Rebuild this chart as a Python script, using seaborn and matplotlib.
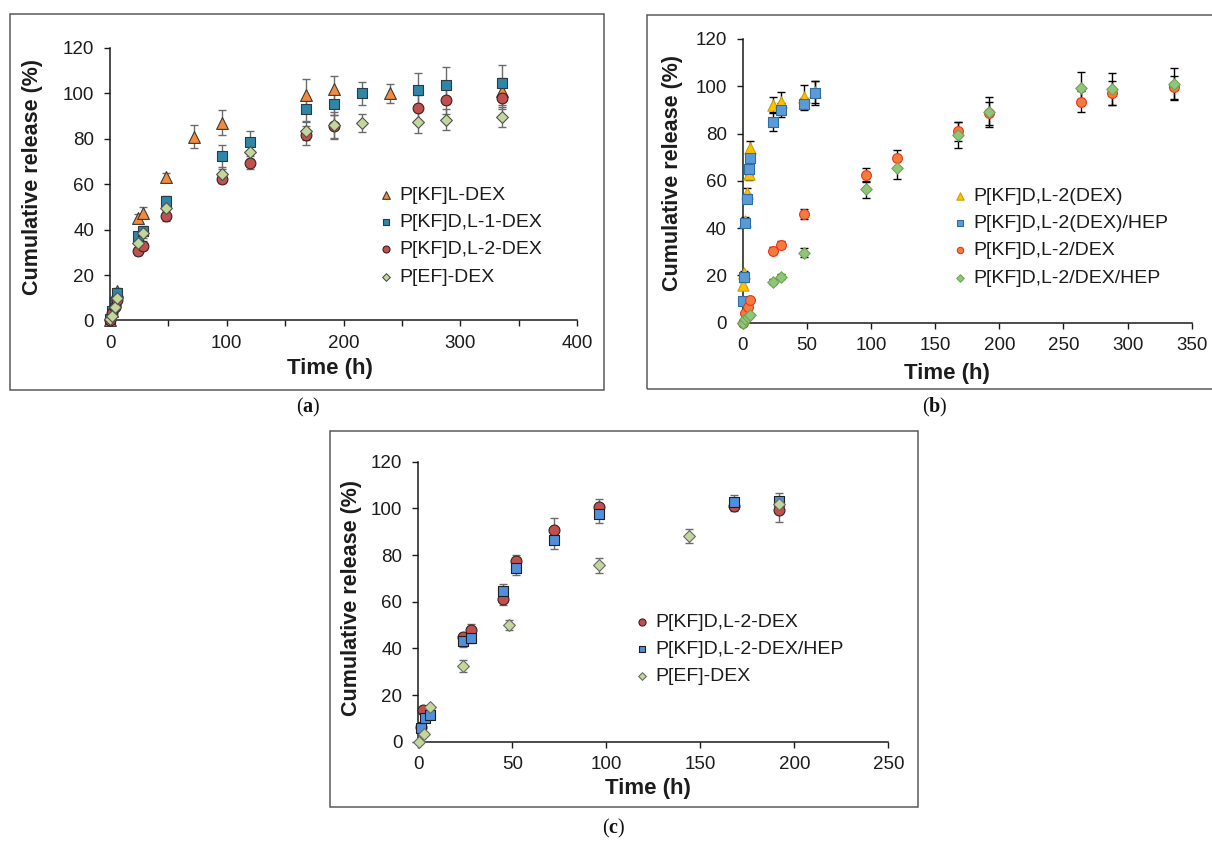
import matplotlib
matplotlib.use("Agg")
import matplotlib.pyplot as plt
from matplotlib.patches import Rectangle
import numpy as np
import seaborn as sns

# ---------------- data: panel (a) ----------------
a_kfl_t = [0, 2, 4, 6, 24, 28, 48, 72, 96, 168, 192, 240, 336]
a_kfl_v = [0, 4, 9, 13, 45, 47.5, 63, 81, 87, 99.5, 102, 100, 101]
a_kfl_e = [0.5, 0.5, 1, 1.5, 2, 2.5, 2, 5, 5.5, 7, 5.5, 4.3, 6]

a_kfd1_t = [0, 2, 4, 6, 24, 28, 48, 96, 120, 168, 192, 216, 264, 288, 336]
a_kfd1_v = [0.5, 4, 8, 12, 37, 39.5, 52.5, 72.5, 78.5, 93, 95.5, 100, 101.5, 103.5, 104.5]
a_kfd1_e = [0.3, 0.5, 1, 1.5, 2, 2, 2.5, 5, 5, 5, 5, 5, 7.5, 8, 8]

a_kfd2_t = [0, 2, 4, 6, 24, 28, 48, 96, 120, 168, 192, 264, 288, 336]
a_kfd2_v = [0, 3.5, 6, 9, 30.5, 33, 46, 62.5, 69.5, 81.5, 85.5, 93.5, 97, 98]
a_kfd2_e = [0.3, 0.5, 1, 1, 1.5, 2, 2, 2, 3, 4, 5, 6, 6, 5]

a_ef_t = [0, 2, 4, 6, 24, 28, 48, 96, 120, 168, 192, 216, 264, 288, 336]
a_ef_v = [0.5, 2, 6, 10, 34, 38.5, 49.5, 64.5, 74, 83.5, 86, 87, 87.5, 88.5, 89.5]
a_ef_e = [0.3, 0.5, 1, 1, 1.5, 2, 2, 2, 3, 4, 6, 4, 5, 4.5, 4.5]

a_names = ["P[KF]L-DEX", "P[KF]D,L-1-DEX", "P[KF]D,L-2-DEX", "P[EF]-DEX"]

# ---------------- data: panel (b) ----------------
b_tri_t = [0.5, 1, 2, 3, 5, 6, 24, 30, 48, 56]
b_tri_v = [16, 21, 43, 55, 63, 74, 92, 93.5, 95.5, 97.5]
b_tri_e = [1, 1, 1.5, 2, 2.5, 3, 3.5, 4, 5, 4.5]

b_sq_t = [0.5, 1, 2, 3, 5, 6, 24, 30, 48, 56]
b_sq_v = [9, 19.5, 42, 52.5, 65, 69.5, 85, 90, 92.5, 97]
b_sq_e = [1, 1, 1.5, 2, 2.5, 2.5, 4, 3, 2.5, 5]

b_ci_t = [0, 2, 4, 6, 24, 30, 48, 96, 120, 168, 192, 264, 288, 336]
b_ci_v = [0, 4, 6.5, 9.5, 30.5, 33, 46, 62.5, 69.5, 81, 88.5, 93.5, 97, 99.5]
b_ci_e = [0.3, 0.5, 0.5, 0.8, 1.5, 1.5, 2, 3, 3.5, 4, 5, 4.5, 5, 5]

b_di_t = [0, 2, 4, 6, 24, 30, 48, 96, 120, 168, 192, 264, 288, 336]
b_di_v = [0, 1.5, 2.5, 3.2, 17.3, 19.5, 29.6, 56.4, 65.3, 79.4, 89.2, 99.4, 98.7, 100.8]
b_di_e = [0.2, 0.3, 0.4, 0.5, 1, 1.2, 2, 3.5, 4.5, 5.5, 6.4, 6.7, 6.7, 6.8]

b_names = ["P[KF]D,L-2(DEX)", "P[KF]D,L-2(DEX)/HEP", "P[KF]D,L-2/DEX", "P[KF]D,L-2/DEX/HEP"]

# ---------------- data: panel (c) ----------------
c_ci_t = [1.5, 2.5, 24, 28, 45, 52, 72, 96, 168, 192]
c_ci_v = [6.5, 13.5, 45, 48, 61, 77.5, 90.7, 100.7, 101.2, 99.3]
c_ci_e = [0.5, 1, 1.5, 2.5, 2.5, 2.5, 5, 3.5, 2.5, 5]

c_sq_t = [1.5, 3.5, 6, 24, 28, 45, 52, 72, 96, 168, 192]
c_sq_v = [6, 10, 11.3, 43.3, 44.3, 64.6, 74.3, 86.4, 97.4, 102.9, 103.3]
c_sq_e = [0.5, 1, 1, 2.5, 2, 3, 3, 4, 3.5, 3, 3.5]

c_di_t = [0.5, 3, 6, 24, 48, 96, 144, 192]
c_di_v = [0, 3.5, 14.8, 32.5, 50, 75.7, 88, 102]
c_di_e = [0.2, 0.5, 1, 2.5, 2, 3.2, 3, 3]

c_names = ["P[KF]D,L-2-DEX", "P[KF]D,L-2-DEX/HEP", "P[EF]-DEX"]

y_ticks = [0, 20, 40, 60, 80, 100, 120]

# ---------------- styling ----------------
W, H = 1212, 841
sns.set_theme(style="ticks")
plt.rcParams["font.family"] = ["Liberation Sans", "DejaVu Sans"]
plt.rcParams["mathtext.fontset"] = "custom"
plt.rcParams["mathtext.rm"] = "Liberation Serif"
plt.rcParams["mathtext.bf"] = "Liberation Serif:bold"

TXT = "#1c1c1c"
fig = plt.figure(figsize=(W / 100, H / 100), dpi=100)
fig.patch.set_facecolor("white")


def px_axes(left, top, right, bottom):
    return fig.add_axes([left / W, 1 - bottom / H, (right - left) / W, (bottom - top) / H])


def frame(left, top, right, bottom):
    fig.patches.append(Rectangle((left / W, 1 - bottom / H), (right - left) / W,
                                 (bottom - top) / H, transform=fig.transFigure,
                                 fill=False, edgecolor="#5a5a5a", lw=1.1))


def draw_series(ax, t, v, e, name, marker, size, face, edge, ecolor):
    ax.errorbar(t, v, yerr=e, fmt="none", ecolor=ecolor, elinewidth=1.0,
                capsize=3, capthick=1.0, zorder=2, clip_on=False)
    sns.scatterplot(x=t, y=v, ax=ax, marker=marker, s=size, color=face,
                    edgecolor=edge, linewidth=0.8, label=name, zorder=3,
                    clip_on=False)


def style_axes(ax, xmax, xstep, label_every, ylab_xy, xlab_xy):
    ax.set_xlim(0, xmax)
    ax.set_ylim(0, 120)
    xt = np.arange(0, xmax + 1, xstep)
    ax.set_xticks(xt)
    ax.set_xticklabels([f"{int(x)}" if x % label_every == 0 else "" for x in xt])
    ax.set_yticks(y_ticks)
    ax.set_yticklabels([str(y) for y in y_ticks])
    sns.despine(ax=ax)
    for s in ("left", "bottom"):
        ax.spines[s].set_color("#1a1a1a")
        ax.spines[s].set_linewidth(1.1)
    ax.tick_params(axis="both", direction="out", length=4.5, width=1.0,
                   color="#1a1a1a", labelcolor=TXT, labelsize=13.5)
    ax.tick_params(axis="y", pad=7)
    ax.tick_params(axis="x", pad=6)
    ax.set_ylabel("Cumulative release (%)", fontsize=15.5, fontweight="bold", color=TXT)
    ax.set_xlabel("Time (h)", fontsize=16, fontweight="bold", color=TXT)
    ax.yaxis.set_label_coords(*ylab_xy)
    ax.xaxis.set_label_coords(*xlab_xy)
    ax.set_facecolor("none")


def place_legend(ax, left, top):
    leg = ax.legend(loc="upper left", bbox_to_anchor=(left / W, 1 - top / H),
                    bbox_transform=fig.transFigure, frameon=False, fontsize=14,
                    handlelength=0.8, handletextpad=0.3, labelspacing=0.5,
                    borderpad=0, borderaxespad=0, markerscale=0.65)
    for txt in leg.get_texts():
        txt.set_color(TXT)


# ---------------- panel (a) ----------------
frame(10, 14, 604, 390)
ax_a = px_axes(110, 48, 577, 320.5)
GA = "#6b6b6b"
draw_series(ax_a, a_kfl_t, a_kfl_v, a_kfl_e, a_names[0], "^", 72, "#F58A3A", "#3a3a3a", GA)
draw_series(ax_a, a_kfd1_t, a_kfd1_v, a_kfd1_e, a_names[1], "s", 50, "#2F86A6", "#2b3a44", GA)
draw_series(ax_a, a_kfd2_t, a_kfd2_v, a_kfd2_e, a_names[2], "o", 60, "#C0504D", "#3a2020", GA)
draw_series(ax_a, a_ef_t, a_ef_v, a_ef_e, a_names[3], "D", 36, "#C3D69B", "#505050", GA)
style_axes(ax_a, 400, 50, 100, (-0.1435, 0.528), (0.471, -0.138))
place_legend(ax_a, 378, 186)

# ---------------- panel (b) ----------------
frame(647, 15, 1216, 389)
ax_b = px_axes(742.7, 38.9, 1191.7, 322.7)
GB = "#000000"
draw_series(ax_b, b_tri_t, b_tri_v, b_tri_e, b_names[0], "^", 66, "#FFC000", "#C9A000", GB)
draw_series(ax_b, b_sq_t, b_sq_v, b_sq_e, b_names[1], "s", 46, "#5B9BD5", "#2E6DA4", GB)
draw_series(ax_b, b_ci_t, b_ci_v, b_ci_e, b_names[2], "o", 50, "#F47B3B", "#E8361E", GB)
draw_series(ax_b, b_di_t, b_di_v, b_di_e, b_names[3], "D", 34, "#93C47D", "#6AA84F", GB)
style_axes(ax_b, 350, 50, 50, (-0.133, 0.526), (0.455, -0.142))
place_legend(ax_b, 952, 187)

# ---------------- panel (c) ----------------
frame(330, 431, 918, 807)
ax_c = px_axes(418.3, 461.7, 888.3, 741.7)
GC = "#6b6b6b"
draw_series(ax_c, c_ci_t, c_ci_v, c_ci_e, c_names[0], "o", 62, "#C0504D", "#3a2020", GC)
draw_series(ax_c, c_sq_t, c_sq_v, c_sq_e, c_names[1], "s", 50, "#4F8FDB", "#1f1f1f", GC)
draw_series(ax_c, c_di_t, c_di_v, c_di_e, c_names[2], "D", 36, "#C3D69B", "#6a6a6a", GC)
style_axes(ax_c, 250, 50, 50, (-0.12, 0.513), (0.489, -0.13))
place_legend(ax_c, 634, 613)

# ---------------- sub-figure letters ----------------
for lab, x, y in (("a", 308, 407), ("b", 935, 407), ("c", 614, 828)):
    fig.text(x / W, 1 - y / H, rf"($\mathbf{{{lab}}}$)", ha="center", va="center",
             fontsize=14.5, family="Liberation Serif", color="#111111")

fig.savefig("out.png", dpi=100, facecolor="white")
